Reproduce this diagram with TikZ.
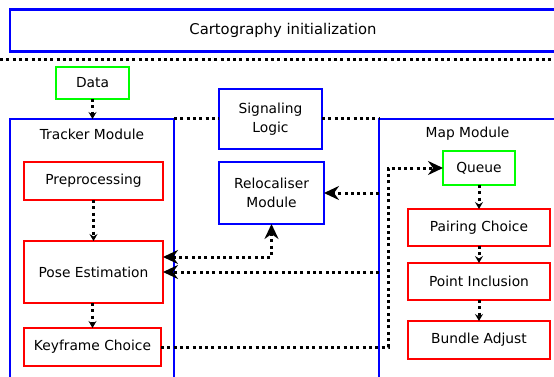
\documentclass[tikz,border=0pt]{standalone}
\usepackage{fontspec}
\setmainfont{DejaVu Sans}
\usetikzlibrary{arrows.meta}
\definecolor{bblue}{RGB}{0,0,255}
\definecolor{rred}{RGB}{255,0,0}
\definecolor{ggreen}{RGB}{0,255,0}
\tikzset{
  box/.style={draw, line width=2.8pt, inner sep=0pt, outer sep=0pt, align=center,
    font=\fontsize{13.8}{18.5}\selectfont},
  bluebox/.style={box, draw=bblue},
  redbox/.style={box, draw=rred},
  greenbox/.style={box, draw=ggreen},
  dotline/.style={line width=3pt, dash pattern=on 3pt off 3.3pt},
  smallarr/.style={dotline, -{Stealth[length=7pt,width=8pt,inset=2.5pt]}},
  bigarr/.style={dotline, -{Stealth[length=15pt,width=14pt,inset=5pt]}},
  bigboth/.style={dotline, {Stealth[length=15pt,width=14pt,inset=5pt]}-{Stealth[length=15pt,width=14pt,inset=5pt]}},
  lbl/.style={font=\fontsize{13.8}{16}\selectfont, inner sep=0pt}
}
\begin{document}
\begin{tikzpicture}[x=1pt,y=-1pt]
\useasboundingbox (0,0) rectangle (554,377);
\clip (0,0) rectangle (554,377);
% big boxes
\node[bluebox, minimum width=546pt, minimum height=42pt, font=\fontsize{14.8}{18}\selectfont] (cart) at (283,30.5) {Cartography initialization};
\node[bluebox, minimum width=164pt, minimum height=266pt] (tracker) at (92,252) {};
\node[lbl] (trackerlbl) at (92,134) {Tracker Module};
\node[bluebox, minimum width=177pt, minimum height=266pt] (map) at (467.5,252) {};
\node[lbl] (maplbl) at (467.5,134) {Map Module};
% small boxes
\node[greenbox, minimum width=73pt, minimum height=32pt] (data) at (92.5,83) {Data};
\node[redbox, minimum width=139pt, minimum height=38pt] (prep) at (93.5,181) {Preprocessing};
\node[redbox, minimum width=139pt, minimum height=62pt] (pose) at (93.5,272) {Pose Estimation};
\node[redbox, minimum width=137pt, minimum height=38pt] (key) at (92.5,347) {Keyframe Choice};
\node[bluebox, minimum width=103pt, minimum height=60pt] (sig) at (270.5,119) {Signaling\\Logic};
\node[bluebox, minimum width=105pt, minimum height=62pt] (reloc) at (271.5,193) {Relocaliser\\Module};
\node[greenbox, minimum width=72pt, minimum height=34pt] (queue) at (479,168) {Queue};
\node[redbox, minimum width=142pt, minimum height=37pt] (pair) at (479,227.5) {Pairing Choice};
\node[redbox, minimum width=142pt, minimum height=37pt] (point) at (479,281.5) {Point Inclusion};
\node[redbox, minimum width=142pt, minimum height=38pt] (bundle) at (479,340) {Bundle Adjust};
% separator
\coordinate (sepl) at (0,60);
\coordinate (sepr) at (554,60);
\draw[dotline] (sepl) -- (sepr);
% connectors
\draw[smallarr] (data.south) -- (data.south |- tracker.north);
\draw[dotline] (sig.west -| tracker.east) -- (sig.west);
\draw[dotline] (sig.east) -- (sig.east -| map.west);
\draw[smallarr] (prep.south) -- (pose.north -| prep.south);
\draw[smallarr] (pose.south -| key.north) -- (key.north);
\draw[smallarr] (queue.south) -- (pair.north);
\draw[smallarr] (pair.south) -- (point.north);
\draw[smallarr] (point.south) -- (bundle.north);
\draw[bigarr] (map.west |- reloc.east) -- (reloc.east);
\draw[bigarr] (map.west |- pose.east) -- (pose.east);
\draw[bigboth] (reloc.south) |- ([yshift=15pt]pose.east);
\coordinate (loop) at (388,347);
\draw[bigarr] (key.east) -- (loop) |- (queue.west);
\end{tikzpicture}
\end{document}
